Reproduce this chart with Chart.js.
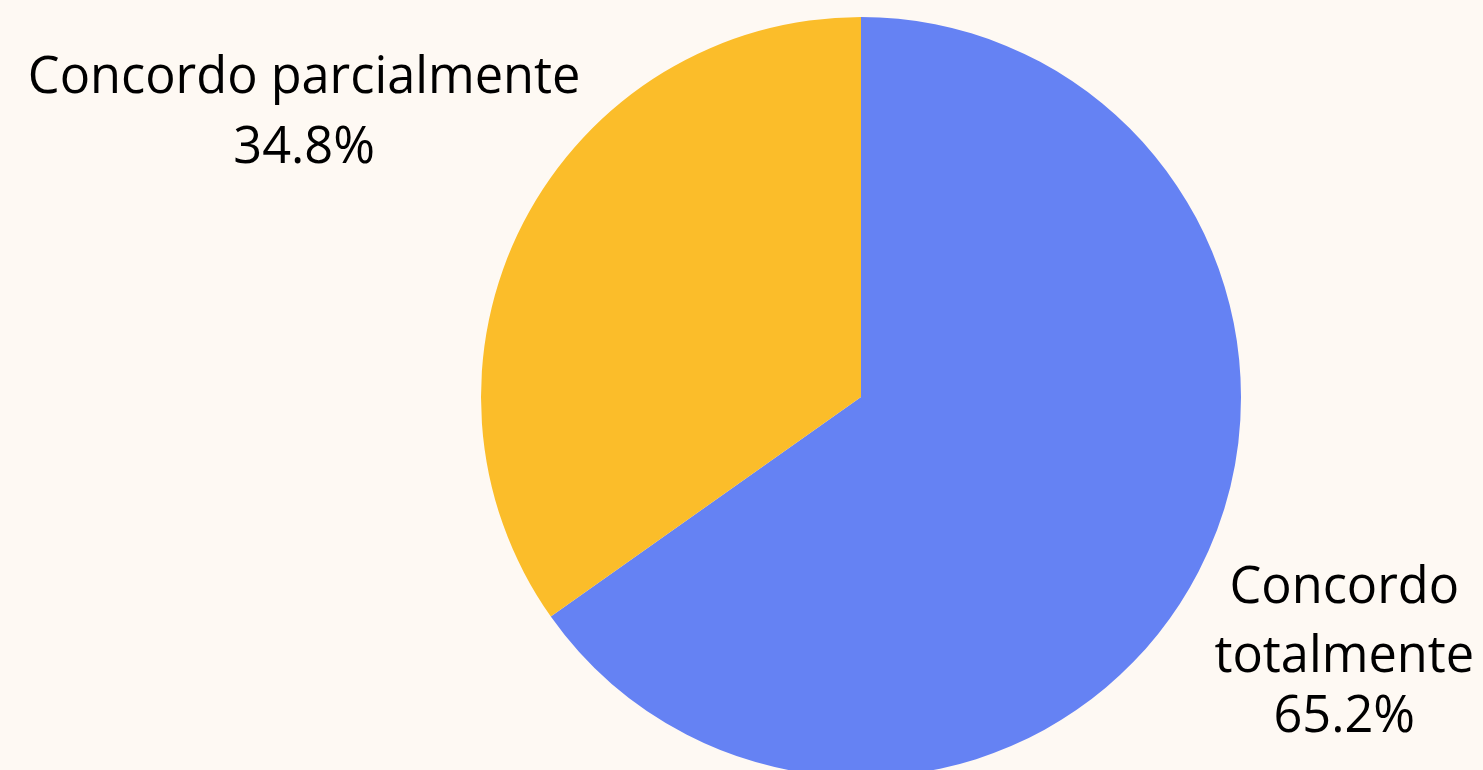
<!DOCTYPE html>
<html>
<head>
<meta charset="utf-8">
<script src="https://cdn.jsdelivr.net/npm/chart.js@4.4.1/dist/chart.umd.min.js"></script>
<style>
  html, body { margin: 0; padding: 0; overflow: hidden; background: #FEF9F3; }
  #wrap { position: relative; width: 1483px; height: 794px; }
</style>
</head>
<body>
<div id="wrap"><canvas id="c"></canvas></div>
<script>
const categories = ["Concordo totalmente", "Concordo parcialmente"];
const labelLines = [["Concordo", "totalmente"], ["Concordo parcialmente"]];
const values = [65.2, 34.8];
const colors = ["#6582F3", "#FBBD2A"];

const labelPlugin = {
  id: 'outLabels',
  afterDatasetsDraw(chart) {
    const ctx = chart.ctx;
    const meta = chart.getDatasetMeta(0);
    const dist = [1.432, 1.65];
    // baseline offsets (px) of each text line relative to the label anchor
    const offsets = [[-44, 25, 85], [-16, 54]];
    ctx.save();
    ctx.font = '50.5px "Open Sans", "Noto Sans", sans-serif';
    ctx.fillStyle = '#000';
    ctx.textAlign = 'center';
    ctx.textBaseline = 'alphabetic';
    meta.data.forEach((arc, i) => {
      const mid = (arc.startAngle + arc.endAngle) / 2;
      const r = arc.outerRadius * dist[i];
      const x = arc.x + Math.cos(mid) * r;
      const y = arc.y + Math.sin(mid) * r;
      const lines = labelLines[i].concat([values[i].toFixed(1) + '%']);
      lines.forEach((t, k) => ctx.fillText(t, x, y + offsets[i][k]));
    });
    ctx.restore();
  }
};

new Chart(document.getElementById('c'), {
  type: 'pie',
  data: {
    labels: categories,
    datasets: [{ data: values, backgroundColor: colors, borderWidth: 0 }]
  },
  options: {
    responsive: true,
    maintainAspectRatio: false,
    animation: false,
    layout: { padding: { left: 481, right: 242, top: 17, bottom: 17 } },
    plugins: { legend: { display: false }, tooltip: { enabled: false } }
  },
  plugins: [labelPlugin]
});
</script>
</body>
</html>
